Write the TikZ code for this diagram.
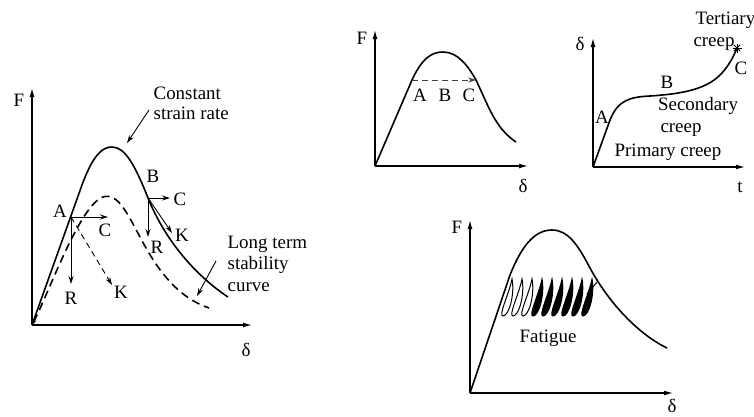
\documentclass[tikz,border=0pt]{standalone}
\usepackage{fontspec}
\setmainfont{Liberation Serif}
\usetikzlibrary{arrows.meta}

\begin{document}
\begin{tikzpicture}[x=1bp,y=-1bp,line width=1.3bp,
  lbl/.style={inner sep=0pt,font=\fontsize{19}{22}\selectfont},
  ax/.style={-{Latex[length=9bp,width=5bp]}},
  arr/.style={-{Stealth[length=8bp,width=5bp]},line width=0.9bp},
  crv/.style={line width=1.6bp},
  dsh/.style={crv,dash pattern=on 8bp off 5bp},
  thin dsh/.style={dash pattern=on 6bp off 4bp}]
\useasboundingbox (0,0) rectangle (754,416);

% left: constant strain rate vs long term stability
\coordinate (o1) at (32,325);
\draw[ax] (o1) -- (32,88) coordinate (f1);
\draw[ax] (o1) -- (252,325) coordinate (d1);
\node[lbl] (F1) at (19,100) {F};
\node[lbl] (D1) at (246,350) {δ};
\draw[crv] (o1) -- (82,185) .. controls (94,152) and (104,147) .. (112,147)
  .. controls (125,147) and (135,165) .. (148,198)
  .. controls (165,240) and (195,275) .. (228,297) coordinate (e1);
\draw[dsh,{Stealth[length=6bp,width=4bp]}-] (o1) .. controls (50,290) and (80,205) .. (103,197)
  .. controls (118,192) and (128,215) .. (140,237)
  .. controls (160,275) and (180,298) .. (209,308) coordinate (e2);
\coordinate (pA) at (71,217);
\coordinate (pB) at (148,198);
\node[lbl] (lA) at (60,211) {A};
\node[lbl] (lB) at (153,176) {B};
\draw[arr] (pA) -- (108,217) coordinate (aC);
\node[lbl] (lAC) at (105,230) {C};
\draw[arr] (pA) -- (71,284) coordinate (aR);
\node[lbl] (lAR) at (71,298) {R};
\draw[arr,thin dsh] (pA) -- (112,285) coordinate (aK);
\node[lbl] (lAK) at (121,292) {K};
\draw[arr] (pB) -- (170,198) coordinate (bC);
\node[lbl] (lBC) at (180,199) {C};
\draw[arr] (pB) -- (148,237) coordinate (bR);
\node[lbl] (lBR) at (157,247) {R};
\draw[arr] (pB) -- (172,233) coordinate (bK);
\node[lbl] (lBK) at (182,235) {K};
\node[lbl,align=left,anchor=north west,font=\fontsize{19}{20}\selectfont] (csr) at (153,86) {Constant\\strain rate};
\coordinate (csrt) at (149,110);
\draw[arr] (csrt) -- (127,143);
\node[lbl,align=left,anchor=north west] (lts) at (227,235) {Long term\\stability\\curve};
\coordinate (ltst) at (216,261);
\draw[arr] (ltst) -- (197,296);

% top middle: A B C
\coordinate (o2) at (375,166);
\draw[ax] (o2) -- (375,30) coordinate (f2);
\draw[ax] (o2) -- (528,166) coordinate (d2);
\node[lbl] (F2) at (362,38) {F};
\node[lbl] (D2) at (523,186) {δ};
\coordinate (qA) at (412,80);
\coordinate (qC) at (476,80);
\draw[crv] (o2) -- (qA) .. controls (422,58) and (432,52) .. (443,52)
  .. controls (458,52) and (468,66) .. (qC)
  .. controls (488,105) and (495,128) .. (516,142);
\draw[arr,thin dsh,black!75] (qA) -- (qC);
\node[lbl] (lqA) at (420,95) {A};
\node[lbl] (lqB) at (445,95) {B};
\node[lbl] (lqC) at (469,95) {C};

% top right: creep
\coordinate (o3) at (593,167);
\draw[ax] (o3) -- (593,38) coordinate (f3);
\draw[ax] (o3) -- (745,167) coordinate (d3);
\node[lbl] (D3) at (580,44) {δ};
\node[lbl] (T3) at (740,187) {t};
\draw[crv] (o3) -- (610,120) .. controls (618,100) and (630,97) .. (650,96)
  .. controls (680,94) and (705,90) .. (720,75)
  .. controls (728,67) and (733,58) .. (737,48) coordinate (rup);
\foreach \a in {0,45,90,135}
  \draw[line width=1bp] (rup) +(\a:4.5bp) -- +(\a+180:4.5bp);
\node[lbl] (lcA) at (602,117) {A};
\node[lbl] (lcB) at (667,82) {B};
\node[lbl] (lcC) at (741,68) {C};
\node[lbl,align=center] (ter) at (714,31) {\hspace*{1.2em}Tertiary\\creep};
\node[lbl,align=center] (sec) at (681,117) {\hspace*{1.8em}Secondary\\creep};
\node[lbl] (pri) at (668,152) {Primary creep};

% bottom: fatigue
\coordinate (o4) at (470,393);
\draw[ax] (o4) -- (470,220) coordinate (f4);
\draw[ax] (o4) -- (673,393) coordinate (d4);
\node[lbl] (F4) at (457,227) {F};
\node[lbl] (D4) at (672,406) {δ};
\draw[crv] (o4) -- (510,275) .. controls (522,245) and (535,230) .. (552,230)
  .. controls (568,230) and (578,245) .. (590,268)
  .. controls (610,305) and (640,335) .. (667,348);
\foreach \i in {0,...,8}{
  \pgfmathsetmacro{\xt}{512+10*\i}
  \pgfmathsetmacro{\xb}{\xt-9}
  \pgfmathsetmacro{\fl}{\i>2 ? 100 : 0}
  \draw[line width=1bp,fill=black!\fl] (\xt,279) .. controls (\xt+3,294) and (\xb+6,316) .. (\xb,316)
    .. controls (\xb-5,316) and (\xt-3,294) .. cycle;
}
\draw[line width=1bp] (587,294) -- (598,281);
\node[lbl] (fat) at (548,338) {Fatigue};
\end{tikzpicture}
\end{document}
